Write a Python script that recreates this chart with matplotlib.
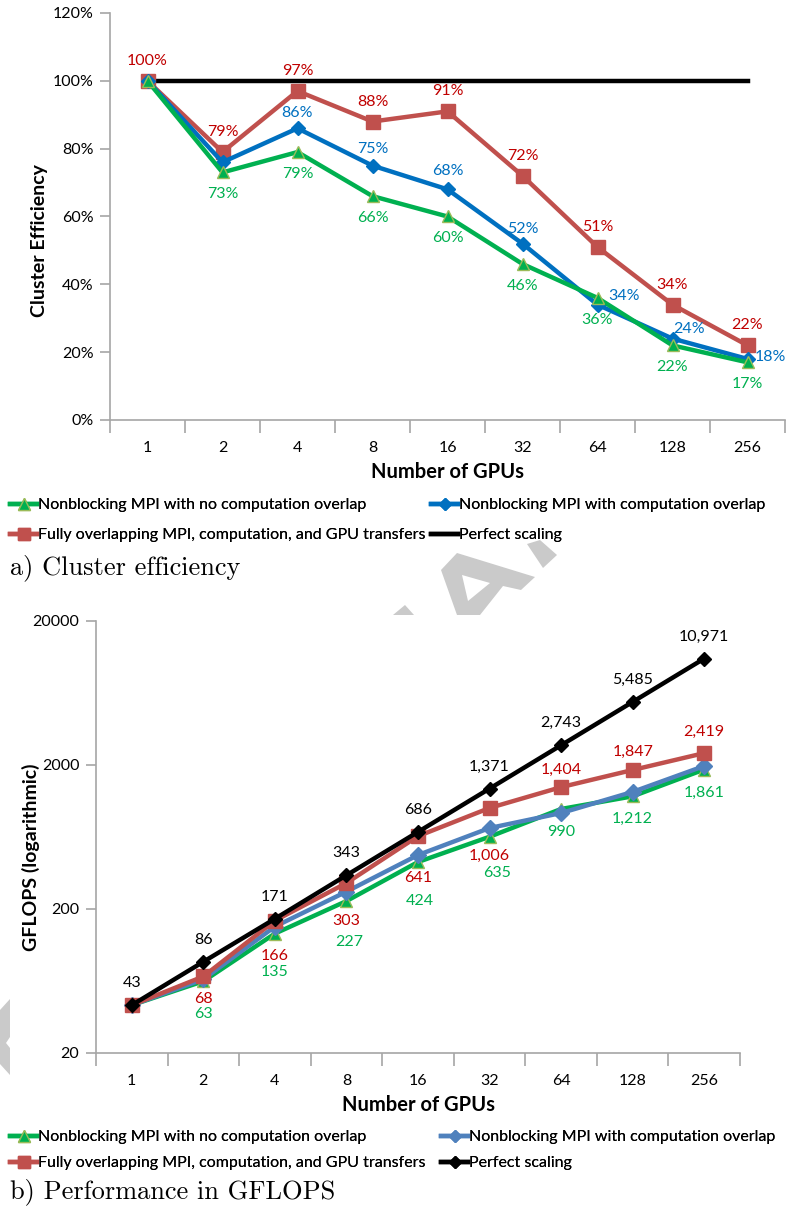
import numpy as np
import matplotlib
matplotlib.use('Agg')
import matplotlib.pyplot as plt
from matplotlib.lines import Line2D
from matplotlib.patches import Polygon
from matplotlib.ticker import FixedLocator, NullFormatter

plt.rcParams['font.family'] = ['Lato', 'DejaVu Sans']

# Data
gpus = ['1', '2', '4', '8', '16', '32', '64', '128', '256']
series_names = ['Nonblocking MPI with no computation overlap',
                'Nonblocking MPI with computation overlap',
                'Fully overlapping MPI, computation, and GPU transfers',
                'Perfect scaling']

eff_noover = [100, 73, 79, 66, 60, 46, 36, 22, 17]
eff_over = [100, 76, 86, 75, 68, 52, 34, 24, 18]
eff_full = [100, 79, 97, 88, 91, 72, 51, 34, 22]
eff_perfect = [100, 100, 100, 100, 100, 100, 100, 100, 100]

gf_noover = [43, 63, 135, 227, 424, 635, 990, 1212, 1861]
gf_over = [43, 65, 151, 264, 474, 730, 928, 1301, 1968]
gf_full = [43, 68, 166, 303, 641, 1006, 1404, 1847, 2419]
gf_perfect = [43, 86, 171, 343, 686, 1371, 2743, 5485, 10971]

# label offsets (pixels, label centre relative to the marker)
dy_a_full = [20] * 9
dy_a_noover = [-22] * 9
off_a_over = [(0, 15), (0, 17), (0, 18), (0, 15), (27, 9), (17, 10), (23, 2)]
dy_b_perfect = [22] * 9
dy_b_full = [-23, -35, -38, -42, -48, 17, 18, 21]
dy_b_noover = [-33, -38, -41, -39, -36, -23, -23, -23]
dx_b_noover = [0, 0, 3, 2, 8, 0, 0, 0]

green = '#00B050'
blue_a, blue_b, blue_txt = '#0070C0', '#4F81BD', '#0070C0'
red, red_txt = '#C0504D', '#C00000'
axis_gray = '#A6A6A6'
PX = 0.72  # points per pixel at 100 dpi
FS = 11.5

fig = plt.figure(figsize=(7.88, 12.09), dpi=100)
x = np.arange(len(gpus))

# faint watermark fragments visible between the panels
wm = '#CACACA'
H = 1209
shapes = [
    [(441, 570), (457, 553), (535, 577), (521, 590), (503, 586), (480, 615), (457, 615)],
    [(527, 544), (540, 540), (557, 555), (543, 568)],
    [(393, 615), (405, 605), (414, 615)],
    [(0, 1010), (10, 999), (10, 1037), (6, 1043), (10, 1048), (10, 1075), (0, 1064)],
]
for pts in shapes:
    fig.add_artist(Polygon([(px, H - py) for px, py in pts], closed=True,
                           transform=None, facecolor=wm, edgecolor='none', zorder=0))
fig.add_artist(Polygon([(px, H - py) for px, py in [(462, 575), (490, 583), (468, 601)]],
                       closed=True, transform=None, facecolor='white',
                       edgecolor='none', zorder=0.5))


def style_axes(ax):
    ax.patch.set_alpha(0)
    for s in ['top', 'right']:
        ax.spines[s].set_visible(False)
    for s in ['left', 'bottom']:
        ax.spines[s].set_color(axis_gray)
        ax.spines[s].set_linewidth(1.2)
    ax.set_xlim(-0.5, len(gpus) - 0.5)
    ax.set_xticks(x)
    ax.set_xticklabels(gpus, fontsize=FS)
    ax.tick_params(axis='x', which='major', length=0, pad=15)
    ax.xaxis.set_minor_locator(FixedLocator(np.arange(len(gpus) + 1) - 0.5))
    ax.xaxis.set_minor_formatter(NullFormatter())
    ax.tick_params(axis='x', which='minor', length=9, color=axis_gray, width=1.2)
    ax.tick_params(axis='y', which='major', length=7, color=axis_gray, width=1.2,
                   labelsize=FS, pad=5)
    ax.tick_params(axis='y', which='minor', length=0)


def label(ax, xs, ys, texts, color, offsets):
    for xi, yi, t, (dx, dy) in zip(xs, ys, texts, offsets):
        ax.annotate(t, (xi, yi), xytext=(dx * PX, dy * PX), textcoords='offset points',
                    ha='center', va='center', color=color, fontsize=FS)


# ---- a) cluster efficiency
ax1 = fig.add_axes([110 / 788, 1 - 420 / 1209, 675 / 788, 407 / 1209])
style_axes(ax1)
ax1.plot(x, eff_perfect, color='black', lw=3.2, zorder=2)
ax1.plot(x, eff_full, color=red, lw=3.2, marker='s', ms=10, zorder=3)
ax1.plot(x, eff_over, color=blue_a, lw=3.2, marker='D', ms=7, zorder=4)
ax1.plot(x, eff_noover, color=green, lw=3.2, marker='^', ms=9,
         markeredgecolor='#9BBB59', zorder=5)
ax1.set_ylim(0, 120)
ax1.set_yticks(np.arange(0, 121, 20))
ax1.set_yticklabels([f'{v}%' for v in range(0, 121, 20)])
ax1.set_xlabel('Number of GPUs', fontsize=14.5, fontweight='bold', labelpad=5)
ax1.set_ylabel('Cluster Efficiency', fontsize=14, fontweight='bold')
ax1.yaxis.set_label_coords(-0.092, 0.44)

label(ax1, x, eff_full, [f'{v}%' for v in eff_full], red_txt,
      [(0, d) for d in dy_a_full])
label(ax1, x[1:], eff_noover[1:], [f'{v}%' for v in eff_noover[1:]], green,
      [(0, d) for d in dy_a_noover[1:]])
label(ax1, x[2:], eff_over[2:], [f'{v}%' for v in eff_over[2:]], blue_txt, off_a_over)

# ---- b) GFLOPS
ax2 = fig.add_axes([96 / 788, 1 - 1053 / 1209, 644 / 788, 432 / 1209])
style_axes(ax2)
ax2.set_yscale('log')
ax2.plot(x, gf_perfect, color='black', lw=3.2, marker='D', ms=7, zorder=5)
ax2.plot(x, gf_full, color=red, lw=3.2, marker='s', ms=10, zorder=4)
ax2.plot(x, gf_over, color=blue_b, lw=3.2, marker='D', ms=8, zorder=3)
ax2.plot(x, gf_noover, color=green, lw=3.2, marker='^', ms=9,
         markeredgecolor='#9BBB59', zorder=2)
ax2.set_ylim(20, 20000)
ax2.yaxis.set_major_locator(FixedLocator([20, 200, 2000, 20000]))
ax2.set_yticklabels(['20', '200', '2000', '20000'])
ax2.set_xlabel('Number of GPUs', fontsize=14.5, fontweight='bold', labelpad=5)
ax2.set_ylabel('GFLOPS (logarithmic)', fontsize=14, fontweight='bold')
ax2.yaxis.set_label_coords(-0.087, 0.454)

label(ax2, x, gf_perfect, [f'{v:,}' for v in gf_perfect], 'black',
      [(0, d) for d in dy_b_perfect])
label(ax2, x[1:], gf_full[1:], [f'{v:,}' for v in gf_full[1:]], red_txt,
      [(0, d) for d in dy_b_full])
label(ax2, x[1:], gf_noover[1:], [f'{v:,}' for v in gf_noover[1:]], green,
      list(zip(dx_b_noover, dy_b_noover)))


def legend_handles(blue, black_marker):
    return [Line2D([], [], color=green, lw=3.2, marker='^', ms=8, markeredgecolor='#9BBB59'),
            Line2D([], [], color=blue, lw=3.2, marker='D', ms=6),
            Line2D([], [], color=red, lw=3.2, marker='s', ms=9),
            Line2D([], [], color='black', lw=3.2, marker=black_marker, ms=6)]


def add_legend(handles, y_row1, row_gap, col2_x):
    for i, (hh, name) in enumerate(zip(handles, series_names)):
        col, row = i % 2, i // 2
        lx = 10 if col == 0 else col2_x
        ly = y_row1 + row * row_gap
        leg = fig.legend([hh], [name], loc='center left',
                         bbox_to_anchor=(lx / 788, 1 - ly / 1209),
                         frameon=False, fontsize=FS, handlelength=1.7,
                         handletextpad=0.05, borderaxespad=0, borderpad=0)
        fig.add_artist(leg)


add_legend(legend_handles(blue_a, None), 505, 30, 431)
add_legend(legend_handles(blue_b, 'D'), 1137, 26, 441)

fig.text(10 / 788, 1 - 568 / 1209, 'a) Cluster efficiency', family='cmr10',
         fontsize=19, va='center', ha='left')
fig.text(10 / 788, 1 - 1192 / 1209, 'b) Performance in GFLOPS', family='cmr10',
         fontsize=19, va='center', ha='left')

fig.savefig('out.png', dpi=100)
